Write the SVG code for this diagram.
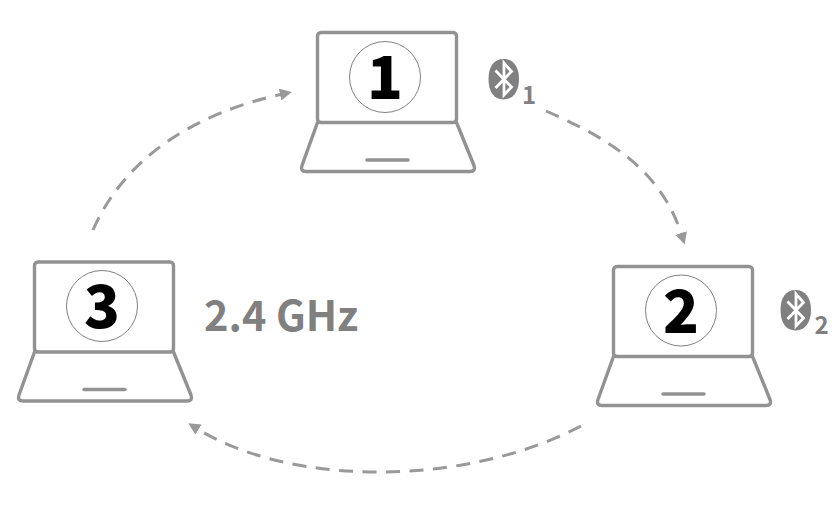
<svg xmlns="http://www.w3.org/2000/svg" width="838" height="517" viewBox="0 0 838 517">
<style>
.l{fill:none;stroke:#929292;stroke-width:3.4;stroke-linejoin:round;stroke-linecap:round}
.c{fill:#fff;stroke:#808080;stroke-width:1}
.n{font-family:"Noto Sans CJK SC","Noto Sans",sans-serif;font-weight:900;font-size:59px;fill:#000;text-anchor:middle}
.t{font-family:"Noto Sans CJK SC","Noto Sans",sans-serif;font-weight:700;fill:#808080}
.d{fill:none;stroke:#999;stroke-width:3;stroke-dasharray:14 9.5}
</style>
<defs>
<marker id="a" markerUnits="userSpaceOnUse" markerWidth="14" markerHeight="14" refX="3" refY="6" orient="auto"><path d="M0 0L12 6L0 12Z" fill="#999"/></marker>
<g id="lap">
<rect class="l" x="17.5" y="2.5" width="139" height="90" rx="3.5"/>
<path class="l" d="M17.5 92.5L2 135.5Q0 141.5 6 141.5H170Q176 141.500 174 135.500L156.500 92.500"/>
<path class="l" d="M67 130H108"/>
</g>
<g id="bt">
<path d="M15 0C25 0 30.500 8 30.500 20C30.500 32 25 40.500 15 40.500C5 40.500 0 32 0 20C0 8 5 0 15 0Z" fill="#808080"/>
<path d="M7 11.500L23 28L15.500 36V4L23 12.500L7 29" fill="none" stroke="#fff" stroke-width="2.800"/>
</g>
</defs>
<g id="connectors">
<path class="d" marker-end="url(#a)" d="M546 111C600 135 660 165 682 236"/>
<path class="d" marker-end="url(#a)" d="M581 426C465 487 290 487 196 428"/>
<path class="d" marker-end="url(#a)" d="M93 230C125 157 195 113 283 94"/>
</g>
<g id="node-1"><use href="#lap" x="300" y="30"/><circle class="c" cx="385" cy="77" r="35.500"/><text class="n" x="385" y="99">1</text></g>
<g id="node-2"><use href="#lap" x="596" y="264"/><circle class="c" cx="681" cy="310.500" r="35.500"/><text class="n" x="681" y="332.500">2</text></g>
<g id="node-3"><use href="#lap" x="17" y="259.500"/><circle class="c" cx="102" cy="306" r="35.500"/><text class="n" x="102" y="328">3</text></g>
<g id="bt-1"><use href="#bt" x="488.500" y="59"/><text class="t" x="522" y="104" font-size="24">1</text></g>
<g id="bt-2"><use href="#bt" x="780.500" y="290"/><text class="t" x="814.500" y="334" font-size="24">2</text></g>
<g id="label-freq"><text class="t" x="204" y="331" font-size="41.500">2.4 GHz</text></g>
</svg>
